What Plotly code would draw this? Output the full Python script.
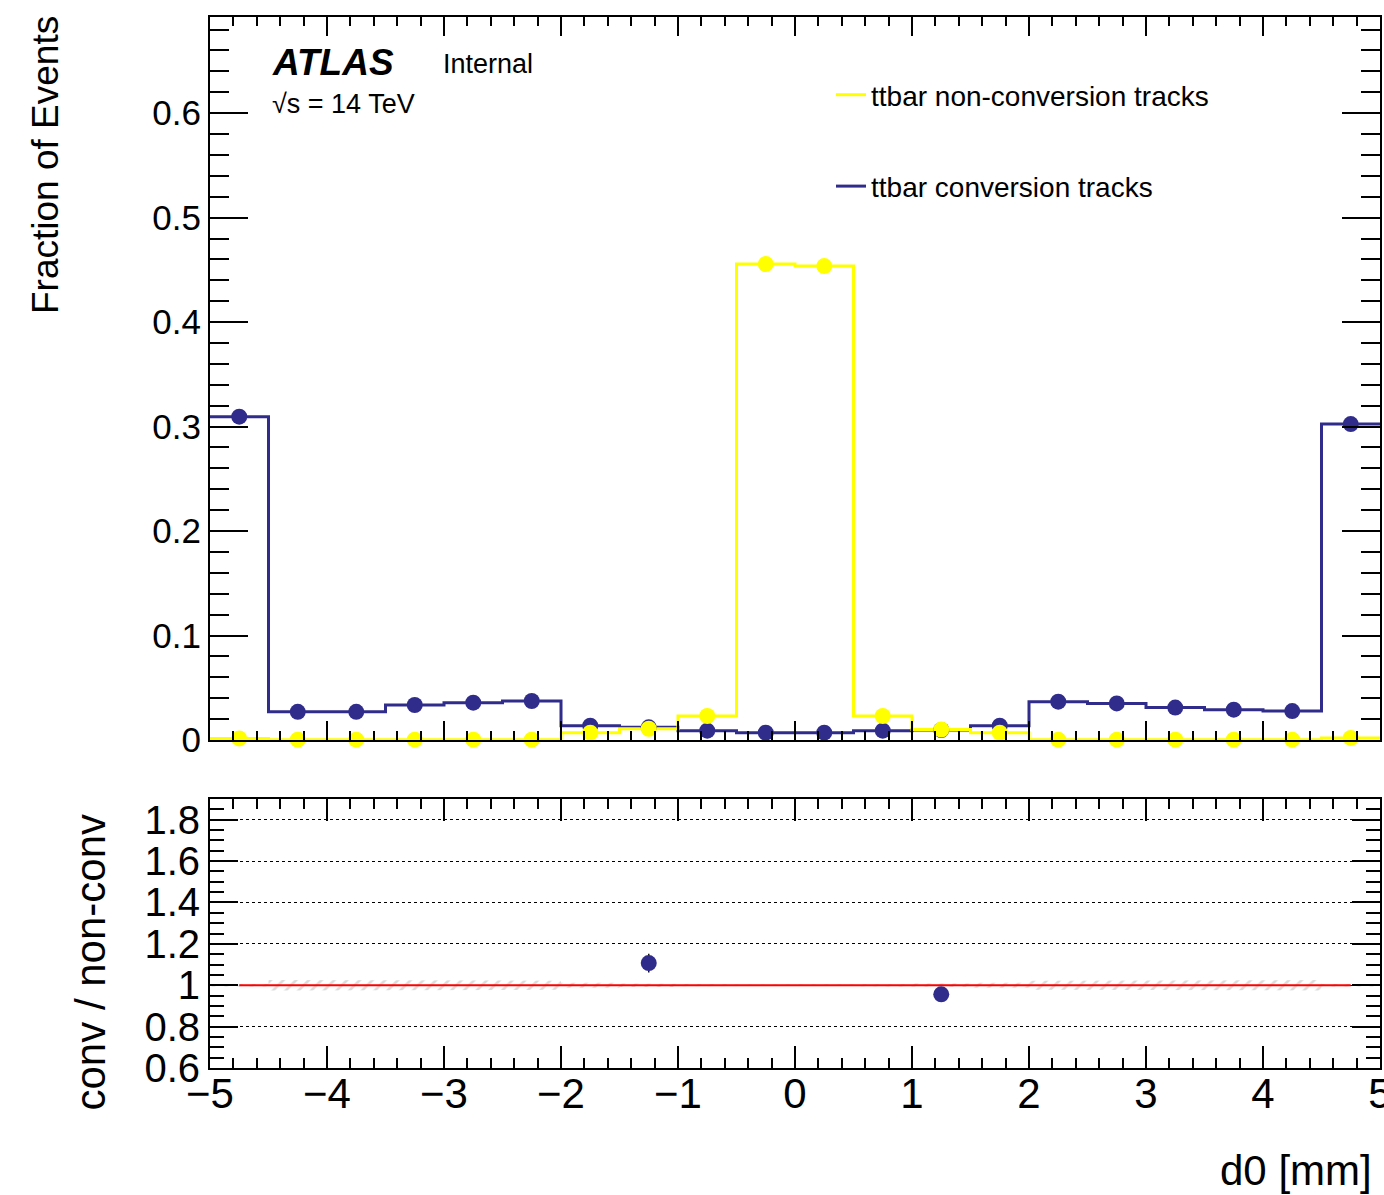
import plotly.graph_objects as go

# ---------------- data ----------------
bin_edges = [-5.0, -4.5, -4.0, -3.5, -3.0, -2.5, -2.0, -1.5, -1.0, -0.5, 0.0,
             0.5, 1.0, 1.5, 2.0, 2.5, 3.0, 3.5, 4.0, 4.5, 5.0]
bin_centers = [-4.75, -4.25, -3.75, -3.25, -2.75, -2.25, -1.75, -1.25, -0.75, -0.25,
               0.25, 0.75, 1.25, 1.75, 2.25, 2.75, 3.25, 3.75, 4.25, 4.75]

nonconv = [0.0015, 0.0003, 0.0003, 0.0003, 0.0003, 0.0003, 0.0070, 0.0108, 0.0230, 0.4555,
           0.4536, 0.0230, 0.0100, 0.0070, 0.0003, 0.0003, 0.0003, 0.0003, 0.0003, 0.0020]
conv = [0.3095, 0.0270, 0.0270, 0.0335, 0.0357, 0.0373, 0.0137, 0.0121, 0.0089, 0.0070,
        0.0070, 0.0089, 0.0096, 0.0137, 0.0367, 0.0350, 0.0310, 0.0290, 0.0277, 0.3024]

ratio_x = [-1.25, 1.25]
ratio_y = [1.107, 0.956]
ratio_err = [0.045, 0.035]

band_err = [0.006, 0.025, 0.025, 0.025, 0.024, 0.022, 0.012, 0.008, 0.005, 0.003,
            0.003, 0.005, 0.008, 0.012, 0.022, 0.024, 0.025, 0.025, 0.025, 0.006]

ref_line_x = [bin_centers[0], bin_centers[-1]]
ref_line_y = [1.0, 1.0]

name_nonconv = "ttbar non-conversion tracks"
name_conv = "ttbar conversion tracks"

# ---------------- style ----------------
BLUE = "#302c8c"
YELLOW = "#ffff00"
FONT = "Liberation Sans"

W, H = 1384, 1195
ML, MR, MT, MB = 210, 4, 17, 127
PW = W - ML - MR
PH = H - MT - MB


def px(x):
    return (x - ML) / PW


def py(y):
    return (H - MB - y) / PH


def step_xy(values):
    return bin_edges, list(values) + [values[-1]]


fig = go.Figure()

# ---- lower panel: hatched uncertainty band ----
bx, by = [], []
for i, e in enumerate(band_err):
    bx += [bin_edges[i], bin_edges[i + 1]]
    by += [1 + e, 1 + e]
for i in range(len(band_err) - 1, -1, -1):
    bx += [bin_edges[i + 1], bin_edges[i]]
    by += [1 - band_err[i], 1 - band_err[i]]
fig.add_trace(go.Scatter(
    x=bx, y=by, fill="toself", mode="lines", line=dict(width=0),
    fillcolor="rgba(0,0,0,0)",
    fillpattern=dict(shape="/", fgcolor="#b8b8b8", bgcolor="rgba(0,0,0,0)", size=9, solidity=0.3),
    showlegend=False, hoverinfo="skip", xaxis="x", yaxis="y"))

fig.add_trace(go.Scatter(
    x=ref_line_x, y=ref_line_y, mode="lines", line=dict(color="#ff0000", width=2),
    showlegend=False, xaxis="x", yaxis="y"))

fig.add_trace(go.Scatter(
    x=ratio_x, y=ratio_y, mode="markers",
    marker=dict(color=BLUE, size=16),
    error_y=dict(type="data", array=ratio_err, color="#111111", thickness=1.5, width=0),
    showlegend=False, xaxis="x", yaxis="y"))

# ---- upper panel ----
sx, sy = step_xy(conv)
fig.add_trace(go.Scatter(
    x=sx, y=sy, mode="lines", line=dict(color=BLUE, width=3, shape="hv"),
    name=name_conv, legendgroup="conv", legendrank=2, xaxis="x2", yaxis="y2"))
sx, sy = step_xy(nonconv)
fig.add_trace(go.Scatter(
    x=sx, y=sy, mode="lines", line=dict(color=YELLOW, width=3, shape="hv"),
    name=name_nonconv, legendgroup="nonconv", legendrank=1, xaxis="x2", yaxis="y2"))
fig.add_trace(go.Scatter(
    x=bin_centers, y=conv, mode="markers", marker=dict(color=BLUE, size=16),
    cliponaxis=False, showlegend=False, xaxis="x2", yaxis="y2"))
fig.add_trace(go.Scatter(
    x=bin_centers, y=nonconv, mode="markers", marker=dict(color=YELLOW, size=16),
    cliponaxis=False, showlegend=False, xaxis="x2", yaxis="y2"))

axis_common = dict(showline=True, linecolor="black", linewidth=2, mirror="allticks",
                   ticks="inside", tickcolor="black", tickwidth=1.5, zeroline=False,
                   automargin=False)

fig.update_layout(
    width=W, height=H,
    margin=dict(l=ML, r=MR, t=MT, b=MB, autoexpand=False),
    paper_bgcolor="white", plot_bgcolor="white",
    font=dict(family=FONT, color="black"),
    xaxis=dict(domain=[0, 1], range=[-5, 5], anchor="y",
               tickmode="linear", tick0=-5, dtick=1, ticklen=22,
               minor=dict(ticks="inside", ticklen=10, dtick=0.2, tick0=-5, tickcolor="black", tickwidth=1.5),
               tickfont=dict(size=42), ticklabeloverflow="allow", ticklabelstandoff=-12,
               showgrid=False, **axis_common),
    yaxis=dict(domain=[0, py(799)], range=[0.6, 1.9], anchor="x",
               tickmode="linear", tick0=0.6, dtick=0.2, ticklen=28,
               minor=dict(ticks="inside", ticklen=14, dtick=0.05, tick0=0.6, tickcolor="black", tickwidth=1.5,
                          showgrid=False),
               showgrid=True, gridcolor="black", gridwidth=1, griddash="dot",
               tickfont=dict(size=40), **axis_common),
    xaxis2=dict(domain=[0, 1], range=[-5, 5], anchor="y2", matches="x",
                tickmode="linear", tick0=-5, dtick=1, ticklen=19, showticklabels=False,
                minor=dict(ticks="inside", ticklen=9, dtick=0.2, tick0=-5, tickcolor="black", tickwidth=1.5),
                showgrid=False, **axis_common),
    yaxis2=dict(domain=[py(740), 1], range=[0, 0.692], anchor="x2",
                tickmode="linear", tick0=0, dtick=0.1, ticklen=38,
                minor=dict(ticks="inside", ticklen=19, dtick=0.02, tick0=0, tickcolor="black", tickwidth=1.5),
                showgrid=False, tickfont=dict(size=35), **axis_common),
    legend=dict(x=px(831), y=py(70), xanchor="left", yanchor="top",
                font=dict(size=28, family=FONT), bgcolor="rgba(0,0,0,0)",
                tracegroupgap=52, itemwidth=30),
    showlegend=True,
)

annotations = [
    dict(text="<b><i>ATLAS</i></b>", x=px(270), y=py(62), xanchor="left", yanchor="middle",
         font=dict(size=37)),
    dict(text="Internal", x=px(441), y=py(64), xanchor="left", yanchor="middle",
         font=dict(size=27)),
    dict(text="√s = 14 TeV", x=px(270), y=py(104), xanchor="left", yanchor="middle",
         font=dict(size=27)),
    dict(text="Fraction of Events", x=px(46), y=py(14), xanchor="center", yanchor="top",
         textangle=-90, font=dict(size=37)),
    dict(text="conv / non-conv", x=px(90), y=py(812), xanchor="center", yanchor="top",
         textangle=-90, font=dict(size=42)),
    dict(text="d0 [mm]", x=px(1374), y=py(1170), xanchor="right", yanchor="middle",
         font=dict(size=42)),
]
for a in annotations:
    a.update(xref="paper", yref="paper", showarrow=False)
fig.update_layout(annotations=annotations)

fig.write_html("out.html")
